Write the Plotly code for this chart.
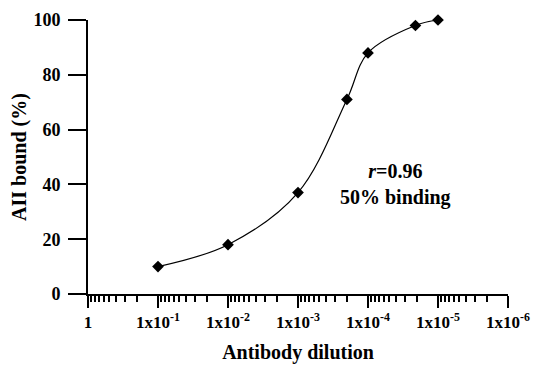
import plotly.graph_objects as go

dilution = [1e-1, 1e-2, 1e-3, 2e-4, 1e-4, 2.1e-5, 1e-5]
bound = [10, 18, 37, 71, 88, 98, 100]

tick_vals = [1, 1e-1, 1e-2, 1e-3, 1e-4, 1e-5, 1e-6]
tick_text = ["<b>1</b>", "<b>1x10<sup>-1</sup></b>", "<b>1x10<sup>-2</sup></b>", "<b>1x10<sup>-3</sup></b>",
             "<b>1x10<sup>-4</sup></b>", "<b>1x10<sup>-5</sup></b>", "<b>1x10<sup>-6</sup></b>"]
y_ticks = [0, 20, 40, 60, 80, 100]

font_family = "Liberation Serif"

fig = go.Figure()
fig.add_trace(go.Scatter(
    x=dilution, y=bound, mode="lines+markers",
    line=dict(shape="spline", color="black", width=1.2, smoothing=1.0),
    marker=dict(symbol="diamond", size=9, color="black"),
    cliponaxis=False, showlegend=False,
))

fig.add_annotation(
    x=0.731, y=0.40, xref="paper", yref="paper", xanchor="center", yanchor="middle",
    text="<b><i>r</i>=0.96<br>50% binding</b>", showarrow=False,
    font=dict(family=font_family, size=20, color="black"), align="center",
)

fig.update_xaxes(
    type="log", range=[0, -6], autorange=False,
    tickvals=tick_vals, ticktext=tick_text,
    ticks="outside", ticklen=12, tickwidth=2, tickcolor="black",
    minor=dict(ticks="outside", ticklen=6, tickwidth=1.5, tickcolor="black", dtick="D1", showgrid=False),
    showline=True, linecolor="black", linewidth=2,
    showgrid=False, zeroline=False,
    tickfont=dict(family=font_family, size=17, color="black"),
    title=dict(text="<b>Antibody dilution</b>", font=dict(family=font_family, size=20, color="black"), standoff=14),
)
fig.update_yaxes(
    range=[0, 100], autorange=False,
    tickvals=y_ticks, ticktext=[f"<b>{v}</b>" for v in y_ticks],
    ticks="outside", ticklen=18, tickwidth=2, tickcolor="black",
    ticklabelstandoff=4,
    showline=True, linecolor="black", linewidth=2,
    showgrid=False, zeroline=False,
    tickfont=dict(family=font_family, size=18, color="black"),
    title=dict(text="<b>AII bound (%)</b>", font=dict(family=font_family, size=20, color="black"), standoff=4),
)
fig.update_layout(
    width=545, height=367,
    margin=dict(l=80, r=45, t=12, b=81, autoexpand=False),
    plot_bgcolor="white", paper_bgcolor="white",
)
fig.write_html("out.html")
